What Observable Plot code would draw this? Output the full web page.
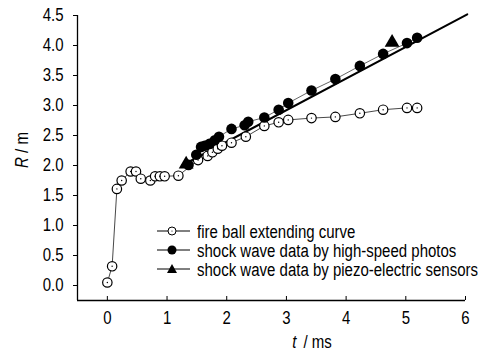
<!DOCTYPE html>
<html><head><meta charset="utf-8">
<script src="https://cdn.jsdelivr.net/npm/d3@7"></script>
<script src="https://cdn.jsdelivr.net/npm/@observablehq/plot@0.6"></script>
<style>
body{margin:0;background:#fff}
#chart{position:relative;width:484px;height:354px;font-family:"Liberation Sans",Arial,sans-serif;color:#000}
#chart svg{display:block}
.lab{position:absolute;font-size:15px;white-space:nowrap;line-height:1}
#ylab{left:21px;top:150px;transform:translate(-50%,-50%) rotate(-90deg) scaleY(1.2)}
#xlab{left:312px;top:341px;transform:translate(-50%,-50%) scaleY(1.2)}
#legend{position:absolute;left:157px;top:221.5px;font-size:15px;white-space:nowrap;width:330px}
.row{display:flex;align-items:center;height:19px}
.row svg{margin-right:7px;flex:none}
.row span{display:inline-block;transform:scaleY(1.2);line-height:1}
</style></head><body><div id="chart"></div>
<script>
// fire ball extending curve (open circles)
const fireT = [0, 0.08, 0.16, 0.24, 0.39, 0.48, 0.56, 0.72, 0.8, 0.88, 0.96, 1.19, 1.52, 1.68, 1.76, 1.85, 1.92, 2.08, 2.32, 2.63, 2.87, 3.03, 3.42, 3.82, 4.23, 4.62, 5.02, 5.19];
const fireR = [0.05, 0.32, 1.61, 1.75, 1.9, 1.9, 1.78, 1.75, 1.82, 1.82, 1.82, 1.83, 2.09, 2.16, 2.22, 2.28, 2.33, 2.38, 2.48, 2.66, 2.72, 2.76, 2.79, 2.81, 2.87, 2.93, 2.96, 2.96];
// shock wave data by high-speed photos (filled circles)
const shockT = [1.36, 1.49, 1.57, 1.63, 1.71, 1.8, 1.87, 2.08, 2.3, 2.36, 2.63, 2.87, 3.03, 3.42, 3.82, 4.23, 4.62, 5.02, 5.19];
const shockR = [2.01, 2.18, 2.31, 2.33, 2.36, 2.42, 2.48, 2.61, 2.67, 2.73, 2.8, 2.93, 3.04, 3.25, 3.44, 3.66, 3.86, 4.04, 4.13];
// shock wave data by piezo-electric sensors (triangles)
const piezoT = [1.32, 4.77];
const piezoR = [2.02, 4.05];
// fitted shock-wave line
const fitT = [1.25, 6.03];
const fitR = [2.0, 4.52];
const xTicks = [0, 1, 2, 3, 4, 5, 6];
const yTicks = [0, 0.5, 1, 1.5, 2, 2.5, 3, 3.5, 4, 4.5];
const legendLabels = ["fire ball extending curve", "shock wave data by high-speed photos", "shock wave data by piezo-electric sensors"];

const zip = (T, R) => T.map((t, i) => ({t, R: R[i]}));
const fire = zip(fireT, fireR), shock = zip(shockT, shockR), piezo = zip(piezoT, piezoR), fit = zip(fitT, fitR);

const plot = Plot.plot({
  width: 484, height: 354,
  marginLeft: 77, marginRight: 19, marginTop: 15, marginBottom: 54,
  style: {fontFamily: '"Liberation Sans", Arial, sans-serif', fontSize: "15px", color: "#000", background: "#fff", overflow: "visible"},
  x: {domain: [-0.5, 6]},
  y: {domain: [-0.25, 4.5]},
  marks: [
    Plot.ruleX([-0.5], {y1: -0.25, y2: 4.5, stroke: "#000", strokeWidth: 1.3}),
    Plot.ruleY([-0.25], {x1: -0.5, x2: 6, stroke: "#000", strokeWidth: 1.3}),
    Plot.axisY({ticks: yTicks, tickFormat: d => d.toFixed(1), tickSize: 4, tickPadding: 10, label: null}),
    Plot.axisX({ticks: xTicks, tickFormat: d => String(d), tickSize: 0, tickPadding: 11, label: null}),
    Plot.axisX({ticks: xTicks, tickSize: 4, tickFormat: () => "", dy: -4, label: null}),
    Plot.line(fire, {x: "t", y: "R", stroke: "#333", strokeWidth: 0.9}),
    Plot.line(shock, {x: "t", y: "R", stroke: "#555", strokeWidth: 0.9}),
    Plot.line(fit, {x: "t", y: "R", stroke: "#000", strokeWidth: 2}),
    Plot.dot(fire, {x: "t", y: "R", r: 4.7, fill: "#fff", stroke: "#000", strokeWidth: 1.2}),
    Plot.dot(fire, {x: "t", y: "R", r: 0.7, fill: "#000"}),
    Plot.dot(shock, {x: "t", y: "R", r: 5.3, fill: "#000"}),
    Plot.dot(piezo, {x: "t", y: "R", symbol: "triangle", r: 5.5, fill: "#000"})
  ]
});
// stretch tick labels vertically (tall, condensed-looking glyphs of the reference)
plot.querySelectorAll('g[aria-label$="tick label"] text').forEach(el => {
  const x = +el.getAttribute("x") || 0, y = +el.getAttribute("y") || 0;
  const T = el.getAttribute("transform") || "";
  el.setAttribute("transform", `${T} translate(${x},${y}) scale(1,1.2) translate(${-x},${-y})`);
});
const chart = document.getElementById("chart");
chart.appendChild(plot);

const yl = document.createElement("div");
yl.className = "lab"; yl.id = "ylab";
yl.innerHTML = '<i>R</i> / m';
chart.appendChild(yl);
const xl = document.createElement("div");
xl.className = "lab"; xl.id = "xlab";
xl.innerHTML = '<i>t</i> &thinsp;/ ms';
chart.appendChild(xl);

const symbols = [
  '<circle cx="15" cy="8" r="4" fill="#fff" stroke="#000" stroke-width="1"/><circle cx="15" cy="8" r="0.6" fill="#000"/>',
  '<circle cx="15" cy="8" r="4.5" fill="#000"/>',
  '<path d="M15,3 L20,12 L10,12 Z" fill="#000"/>'
];
const leg = document.createElement("div");
leg.id = "legend";
leg.innerHTML = legendLabels.map((l, i) =>
  `<div class="row"><svg width="33" height="16"><line x1="0" x2="33" y1="8" y2="8" stroke="#000" stroke-width="1"/>${symbols[i]}</svg><span>${l}</span></div>`
).join("");
chart.appendChild(leg);
</script>
</body></html>
